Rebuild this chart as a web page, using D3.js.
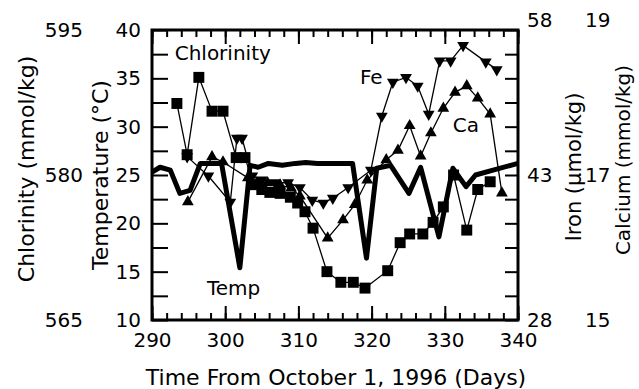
<!DOCTYPE html>
<html>
<head>
<meta charset="utf-8">
<script src="https://cdn.jsdelivr.net/npm/d3@7"></script>
<style>
  body { margin: 0; background: #fff; }
  svg text { font-family: "DejaVu Sans", Arial, sans-serif; fill: #000; }
</style>
</head>
<body>
<div id="chart"></div>
<script>
// values: [day, value]
var tempData = [[290,25.3],[291.1,25.8],[292.5,25.5],[293.8,23.1],[295.2,23.4],[296.6,26.2],[299.5,26.2],
  [302.0,15.4],[303.4,26.0],[304.5,25.8],[305.9,26.2],[307.8,26.0],[309.6,26.2],[311.0,26.3],[312.6,26.2],
  [314.8,26.2],[317.4,26.2],[319.3,16.4],[320.7,25.7],[322.6,26.0],[325.1,23.1],[326.7,25.8],[329.2,18.6],
  [331.1,25.7],[332.9,23.8],[334.2,25.0],[336.6,25.5],[339.0,26.0],[340,26.2]];
var clData = [[293.4,587.4],[294.8,582.1],[296.4,590.1],[298.2,586.6],[299.7,586.6],[301.5,581.8],[302.7,581.8],
  [303.9,579.0],[305.0,578.5],[306.1,578.2],[307.5,578.1],[308.9,577.7],[309.9,577.1],[310.9,576.2],[312.0,574.5],
  [313.9,570.0],[315.8,568.9],[317.5,568.9],[319.1,568.3],[322.2,570.1],[323.9,573.0],[325.2,573.9],[327.0,573.9],
  [328.4,575.1],[329.8,576.7],[331.2,580.0],[333.0,574.3],[334.5,578.5],[336.2,579.3]];
var feData = [[294.8,44.9],[297.7,42.9],[300.7,40.2],[301.6,46.8],[302.3,46.8],[303.7,42.9],[305.0,42.5],
  [306.8,42.2],[308.6,42.2],[310.2,41.7],[311.9,40.4],[313.4,40.1],[314.7,40.6],[316.8,41.7],[319.9,43.5],
  [321.4,49.1],[322.9,52.6],[324.7,53.1],[326.3,52.2],[327.8,49.3],[329.3,54.8],[330.8,54.8],[332.5,56.4],
  [335.6,54.7],[337.1,53.9]];
var caData = [[294.9,16.63],[298.2,17.25],[299.7,17.18],[303.1,16.96],[304.3,16.89],[305.8,16.89],[307.5,16.86],
  [309.0,16.82],[310.2,16.71],[314.0,16.13],[316.1,16.38],[317.7,16.59],[319.4,16.93],[322.0,17.21],[323.6,17.34],
  [325.2,17.68],[326.7,17.26],[328.1,17.58],[329.8,17.92],[331.4,18.14],[333.0,18.23],[334.5,18.06],[336.2,17.84],
  [337.8,16.75]];

var dayTicks = [290, 300, 310, 320, 330, 340];
var tempTicks = [10, 15, 20, 25, 30, 35, 40];
var clTicks = [565, 580, 595];
var feTicks = [28, 43, 58];
var caTicks = [15, 17, 19];

var w = 639, h = 389;
var pL = 152, pR = 518, pT = 30, pB = 320;

var svg = d3.select("#chart").append("svg")
  .attr("width", w).attr("height", h);

var x = d3.scaleLinear().domain([290, 340]).range([pL, pR]);
var yT = d3.scaleLinear().domain([10, 40]).range([pB, pT]);
var yCl = d3.scaleLinear().domain([565, 595]).range([pB, pT]);
var yFe = d3.scaleLinear().domain([28, 58]).range([pB, pT]);
var yCa = d3.scaleLinear().domain([15, 19]).range([pB, pT]);

function clean(g) {
  g.select(".domain").remove();
  g.selectAll(".tick line").attr("stroke", "#000").attr("stroke-width", 2);
  g.selectAll("text").attr("font-size", 20).attr("fill", "#000");
}

// x axis, bottom + top, major and minor ticks pointing inward
svg.append("g").attr("transform", "translate(0," + pB + ")")
  .call(d3.axisBottom(x).tickValues(d3.range(290, 341, 2)).tickSize(-7).tickFormat(""))
  .call(clean);
svg.append("g").attr("transform", "translate(0," + pB + ")")
  .call(d3.axisBottom(x).tickValues(dayTicks).tickSize(-14).tickPadding(8).tickFormat(d3.format("d")))
  .call(clean)
  .selectAll("text").attr("dy", "0.95em");
svg.append("g").attr("transform", "translate(0," + pT + ")")
  .call(d3.axisTop(x).tickValues(d3.range(290, 341, 2)).tickSize(-7).tickFormat(""))
  .call(clean);
svg.append("g").attr("transform", "translate(0," + pT + ")")
  .call(d3.axisTop(x).tickValues(dayTicks).tickSize(-14).tickFormat(""))
  .call(clean);

// left: temperature (inner) and chlorinity (outer)
svg.append("g").attr("transform", "translate(" + pL + ",0)")
  .call(d3.axisLeft(yT).tickValues(d3.range(10, 40.1, 2.5)).tickSize(-16).tickPadding(11)
    .tickFormat(function(d) { return tempTicks.indexOf(d) >= 0 ? d : ""; }))
  .call(clean);
svg.append("g").attr("transform", "translate(" + pL + ",0)")
  .call(d3.axisLeft(yCl).tickValues(clTicks).tickSize(0).tickPadding(69))
  .call(clean);

// right: iron (inner) and calcium (outer)
svg.append("g").attr("transform", "translate(" + pR + ",0)")
  .call(d3.axisRight(yFe).tickValues(d3.range(28, 58.1, 2.5)).tickSize(-13).tickPadding(9)
    .tickFormat(function(d) { return feTicks.indexOf(d) >= 0 ? d : ""; }))
  .call(clean);
svg.append("g").attr("transform", "translate(" + pR + ",0)")
  .call(d3.axisRight(yCa).tickValues(caTicks).tickSize(0).tickPadding(67).tickFormat(d3.format("d")))
  .call(clean);
// top labels on the right sit a bit higher
svg.selectAll("g.tick").filter(function(d) { return d === 58 || d === 19; })
  .select("text").attr("dy", "-0.2em");

// frame
svg.append("rect").attr("x", pL).attr("y", pT)
  .attr("width", pR - pL).attr("height", pB - pT)
  .attr("fill", "none").attr("stroke", "#000").attr("stroke-width", 3);

// series
var thin = d3.line();
function drawSeries(data, yScale, shape, rot, size) {
  svg.append("path")
    .attr("d", thin(data.map(function(d) { return [x(d[0]), yScale(d[1])]; })))
    .attr("fill", "none").attr("stroke", "#000").attr("stroke-width", 1.3);
  svg.selectAll(null).data(data).enter().append("path")
    .attr("d", d3.symbol().type(shape).size(size))
    .attr("transform", function(d) {
      return "translate(" + x(d[0]) + "," + yScale(d[1]) + ") rotate(" + rot + ")";
    })
    .attr("fill", "#000");
}
drawSeries(clData, yCl, d3.symbolSquare, 0, 120);
drawSeries(feData, yFe, d3.symbolTriangle, 180, 60);
drawSeries(caData, yCa, d3.symbolTriangle, 0, 60);

svg.append("path")
  .attr("d", d3.line().x(function(d) { return x(d[0]); }).y(function(d) { return yT(d[1]); })(tempData))
  .attr("fill", "none").attr("stroke", "#000").attr("stroke-width", 5)
  .attr("stroke-linejoin", "round");

// in-plot labels
function label(txt, px, py) {
  svg.append("text").attr("x", px).attr("y", py).attr("font-size", 20).text(txt);
}
label("Chlorinity", x(293.1), yT(36.9));
label("Temp", x(297.5), yT(12.6));
label("Fe", x(318.4), yT(34.4));
label("Ca", x(331.1), yT(29.45));

// axis titles
svg.append("text").attr("text-anchor", "middle").attr("font-size", 22)
  .attr("x", 336).attr("y", 385).text("Time From October 1, 1996 (Days)");
function vtitle(txt, cx, cy, fs) {
  svg.append("text").attr("text-anchor", "middle").attr("font-size", fs)
    .attr("transform", "translate(" + cx + "," + cy + ") rotate(-90)")
    .attr("dy", "0.35em").text(txt);
}
vtitle("Chlorinity (mmol/kg)", 26, 169, 22);
vtitle("Temperature (°C)", 100, 175, 22);
vtitle("Iron (µmol/kg)", 574, 167, 21);
vtitle("Calcium (mmol/kg)", 623, 160, 20);
</script>
</body>
</html>
